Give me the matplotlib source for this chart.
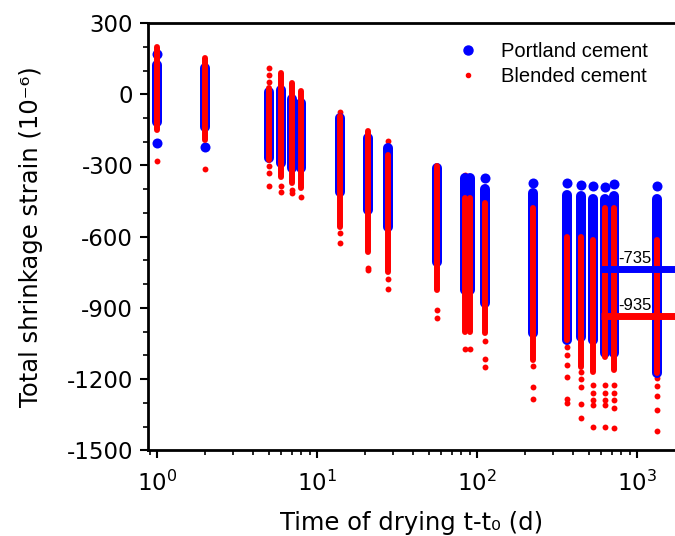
import numpy as np
import matplotlib
matplotlib.use('Agg')
import matplotlib.pyplot as plt
from matplotlib.lines import Line2D

# drying times (d) of each measurement column
days = [1, 2, 5, 6, 7, 8, 14, 21, 28, 56, 84, 91, 112, 224, 365, 450, 530, 630, 720, 1330]

# Portland cement: dense band (low, high) and separate points per column
pc_low = [-118, -139, -270, -290, -312, -312, -413, -489, -560, -708, -826, -826,
          -881, -1008, -1037, -1024, -1037, -1092, -1092, -1176]
pc_high = [122, 110, 8, 17, -21, -38, -101, -186, -228, -312, -354, -354,
           -400, -417, -426, -430, -440, -440, -430, -440]
pc_extra = [[169, -207], [-224], [], [], [], [], [], [], [], [], [], [],
            [-354], [-375], [-375], [-384], [-388], [-392], [-379], [-388]]

# Blended cement
bc_low = [-152, -194, -278, -350, -375, -396, -560, -666, -750, -826, -1003, -1003,
          -1008, -1121, -1037, -1151, -1172, -1109, -1164, -1176]
bc_high = [198, 152, 25, 88, 46, 13, -90, -156, -257, -303, -438, -438,
           -460, -480, -603, -603, -616, -480, -480, -616]
bc_extra = [[-283], [-316], [110, 80, 50, -304, -333, -388], [-388, -413], [-405, -418], [-434],
            [-76, -586, -628], [-734, -740], [-198, -230, -780, -822], [-911, -944],
            [-341, -1075], [-392, -1075], [-392, -1041, -1117, -1151],
            [-438, -1146, -1235, -1286],
            [-455, -490, -530, -573, -1066, -1100, -1140, -1193, -1282, -1303],
            [-485, -520, -555, -582, -1172, -1200, -1235, -1307, -1366],
            [-497, -530, -570, -1227, -1260, -1290, -1311, -1404],
            [-1227, -1260, -1290, -1311, -1404],
            [-1227, -1260, -1290, -1320, -1408],
            [-522, -560, -590, -1197, -1230, -1270, -1332, -1420]]

# long-term averages
avg_pc = -735
avg_bc = -935
avg_start = 600

plt.rcParams['axes.unicode_minus'] = False
fig = plt.figure(figsize=(6.75, 5.36), dpi=100)
ax = fig.add_axes([0.219, 0.160, 0.781, 0.797])

lc = ax.vlines(days, pc_low, pc_high, color='blue', linewidth=7.2)
lc.set_capstyle('round')
px = [d for d, e in zip(days, pc_extra) for v in e]
py = [v for e in pc_extra for v in e]
ax.scatter(px, py, s=52, color='blue', linewidths=0)

lc = ax.vlines(days, bc_low, bc_high, color='red', linewidth=4.3)
lc.set_capstyle('round')
bx = [d for d, e in zip(days, bc_extra) for v in e]
by = [v for e in bc_extra for v in e]
ax.scatter(bx, by, s=18, color='red', linewidths=0)

ax.plot([avg_start, 2000], [avg_pc, avg_pc], color='blue', linewidth=5, solid_capstyle='butt')
ax.plot([avg_start, 2000], [avg_bc, avg_bc], color='red', linewidth=5, solid_capstyle='butt')
ax.text(760, avg_pc + 12, str(avg_pc), fontsize=12, family='Liberation Sans', va='bottom', ha='left')
ax.text(760, avg_bc + 12, str(avg_bc), fontsize=12, family='Liberation Sans', va='bottom', ha='left')

ax.set_xscale('log')
ax.set_xlim(0.878, 1728)
ax.set_ylim(-1500, 300)
ax.set_yticks(np.arange(-1500, 301, 300))
ax.set_yticks(np.arange(-1500, 301, 100), minor=True)

for s in ['left', 'bottom', 'top']:
    ax.spines[s].set_linewidth(2)
ax.spines['right'].set_visible(False)
ax.tick_params(which='major', direction='out', length=5.5, width=1.5, labelsize=16.5, pad=5)
ax.tick_params(axis='x', which='major', pad=9)
ax.tick_params(which='minor', direction='out', length=3.6, width=1.2)

ax.set_xlabel('Time of drying t-t\u2080 (d)', fontsize=17.5, labelpad=11)
ax.set_ylabel('Total shrinkage strain (10\u207b\u2076)', fontsize=17.5, labelpad=17)

handles = [Line2D([], [], marker='o', ls='', color='blue', markersize=6.5),
           Line2D([], [], marker='o', ls='', color='red', markersize=3)]
ax.legend(handles, ['Portland cement', 'Blended cement'], loc='upper right',
          bbox_to_anchor=(0.982, 0.997), frameon=False, prop={'family': 'Liberation Sans', 'size': 14.5},
          handletextpad=0.6, labelspacing=0.3)

fig.savefig('out.png', dpi=100)
